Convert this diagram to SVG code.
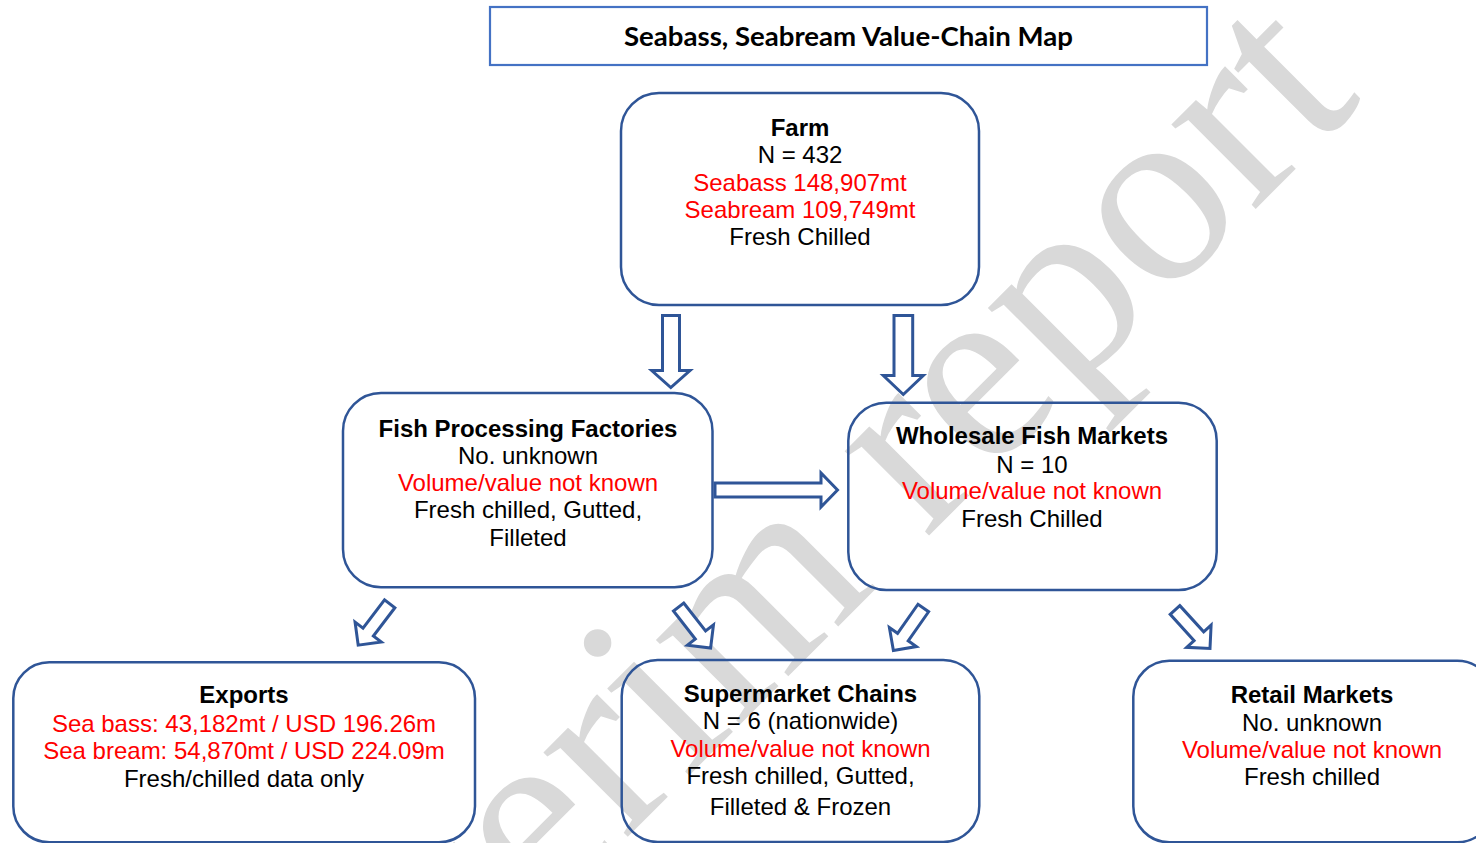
<svg xmlns="http://www.w3.org/2000/svg" xmlns:xlink="http://www.w3.org/1999/xlink" width="1476" height="843" viewBox="0 0 1476 843">
  <style>
    .box { fill: none; stroke: #2F5597; stroke-width: 2.5; }
    .title-box { fill: none; stroke: #4472C4; stroke-width: 2.2; }
    .arr { fill: #ffffff; stroke: #2F5597; stroke-width: 3; stroke-linejoin: miter; }
    .t { font-family: 'Liberation Sans', Arial, sans-serif; font-size: 24px; text-anchor: middle; fill: #000000; }
    .b { font-weight: bold; }
    .r { fill: #FF0000; }
    .title { font-family: Lato, 'Open Sans', sans-serif; font-weight: bold; font-size: 26px; text-anchor: middle; fill: #000000; }
    .wm { font-family: 'Liberation Serif', 'Times New Roman', serif; font-size: 260px; fill: #d9d9d9; text-anchor: middle; }
  </style>
  <defs>
    <!-- hollow block arrow used on the diagonal links, pointing along +x from its tail -->
    <path id="diag-arrow" d="M0,-6.5 H35.5 V-16.5 L52,0 L35.5,16.5 V6.5 H0 Z"/>
  </defs>

  <rect width="1476" height="843" fill="#ffffff"/>

  <!-- diagonal background stamp -->
  <text class="wm" transform="translate(851.3,613.3) rotate(-45)">Interim report</text>

  <g id="title">
    <rect class="title-box" x="490" y="7" width="717" height="58"/>
    <text class="title" x="848.5" y="46" textLength="449" lengthAdjust="spacingAndGlyphs">Seabass, Seabream Value-Chain Map</text>
  </g>

  <g id="farm">
    <rect class="box" x="621" y="93" width="358" height="212" rx="38" ry="38"/>
    <text class="t b" x="800" y="136">Farm</text>
    <text class="t" x="800" y="163.3">N = 432</text>
    <text class="t r" x="800" y="190.7">Seabass 148,907mt</text>
    <text class="t r" x="800" y="217.7">Seabream 109,749mt</text>
    <text class="t" x="800" y="245">Fresh Chilled</text>
  </g>

  <g id="processing">
    <rect class="box" x="343" y="393" width="369.5" height="194.3" rx="38" ry="38"/>
    <text class="t b" x="528" y="436.5">Fish Processing Factories</text>
    <text class="t" x="528" y="463.5">No. unknown</text>
    <text class="t r" x="528" y="490.5">Volume/value not known</text>
    <text class="t" x="528" y="518">Fresh chilled, Gutted,</text>
    <text class="t" x="528" y="545.5">Filleted</text>
  </g>

  <g id="wholesale">
    <rect class="box" x="848.3" y="402.7" width="368.4" height="187.3" rx="38" ry="38"/>
    <text class="t b" x="1032" y="444.3">Wholesale Fish Markets</text>
    <text class="t" x="1032" y="472.7">N = 10</text>
    <text class="t r" x="1032" y="499.3">Volume/value not known</text>
    <text class="t" x="1032" y="526.7">Fresh Chilled</text>
  </g>

  <g id="exports">
    <rect class="box" x="13.3" y="662.3" width="461.7" height="180" rx="36" ry="36"/>
    <text class="t b" x="244" y="703.3">Exports</text>
    <text class="t r" x="244" y="731.7">Sea bass: 43,182mt / USD 196.26m</text>
    <text class="t r" x="244" y="759.3">Sea bream: 54,870mt / USD 224.09m</text>
    <text class="t" x="244" y="786.7">Fresh/chilled data only</text>
  </g>

  <g id="supermarkets">
    <rect class="box" x="621.7" y="660" width="357.6" height="182" rx="36" ry="36"/>
    <text class="t b" x="800.5" y="701.7">Supermarket Chains</text>
    <text class="t" x="800.5" y="729.3">N = 6 (nationwide)</text>
    <text class="t r" x="800.5" y="757.3">Volume/value not known</text>
    <text class="t" x="800.5" y="784.3">Fresh chilled, Gutted,</text>
    <text class="t" x="800.5" y="815">Filleted &amp; Frozen</text>
  </g>

  <g id="retail">
    <rect class="box" x="1133.3" y="660.7" width="360" height="181.6" rx="36" ry="36"/>
    <text class="t b" x="1312" y="703.3">Retail Markets</text>
    <text class="t" x="1312" y="731">No. unknown</text>
    <text class="t r" x="1312" y="758.3">Volume/value not known</text>
    <text class="t" x="1312" y="785">Fresh chilled</text>
  </g>

  <g id="connectors">
    <!-- farm to processing -->
    <path class="arr" d="M662.5,315.5 H679.5 V370.5 H690 L670.8,387.5 L651.7,370.5 H662.5 Z"/>
    <!-- farm to wholesale -->
    <path class="arr" d="M894,315.5 H912.7 V375.5 H923.3 L903.3,394.5 L883.3,375.5 H894 Z"/>
    <!-- processing to wholesale -->
    <path class="arr" d="M715,483 H821 V473 L837.5,490 L821,507 V497 H715 Z"/>
    <!-- processing to exports -->
    <use xlink:href="#diag-arrow" class="arr" transform="translate(389.7,603.8) rotate(127.3)"/>
    <!-- processing to supermarkets -->
    <use xlink:href="#diag-arrow" class="arr" transform="translate(678.6,607) rotate(52)"/>
    <!-- wholesale to supermarkets -->
    <use xlink:href="#diag-arrow" class="arr" transform="translate(923.3,608) rotate(125.1)"/>
    <!-- wholesale to retail -->
    <use xlink:href="#diag-arrow" class="arr" transform="translate(1175,610) rotate(47.7)"/>
  </g>
</svg>
